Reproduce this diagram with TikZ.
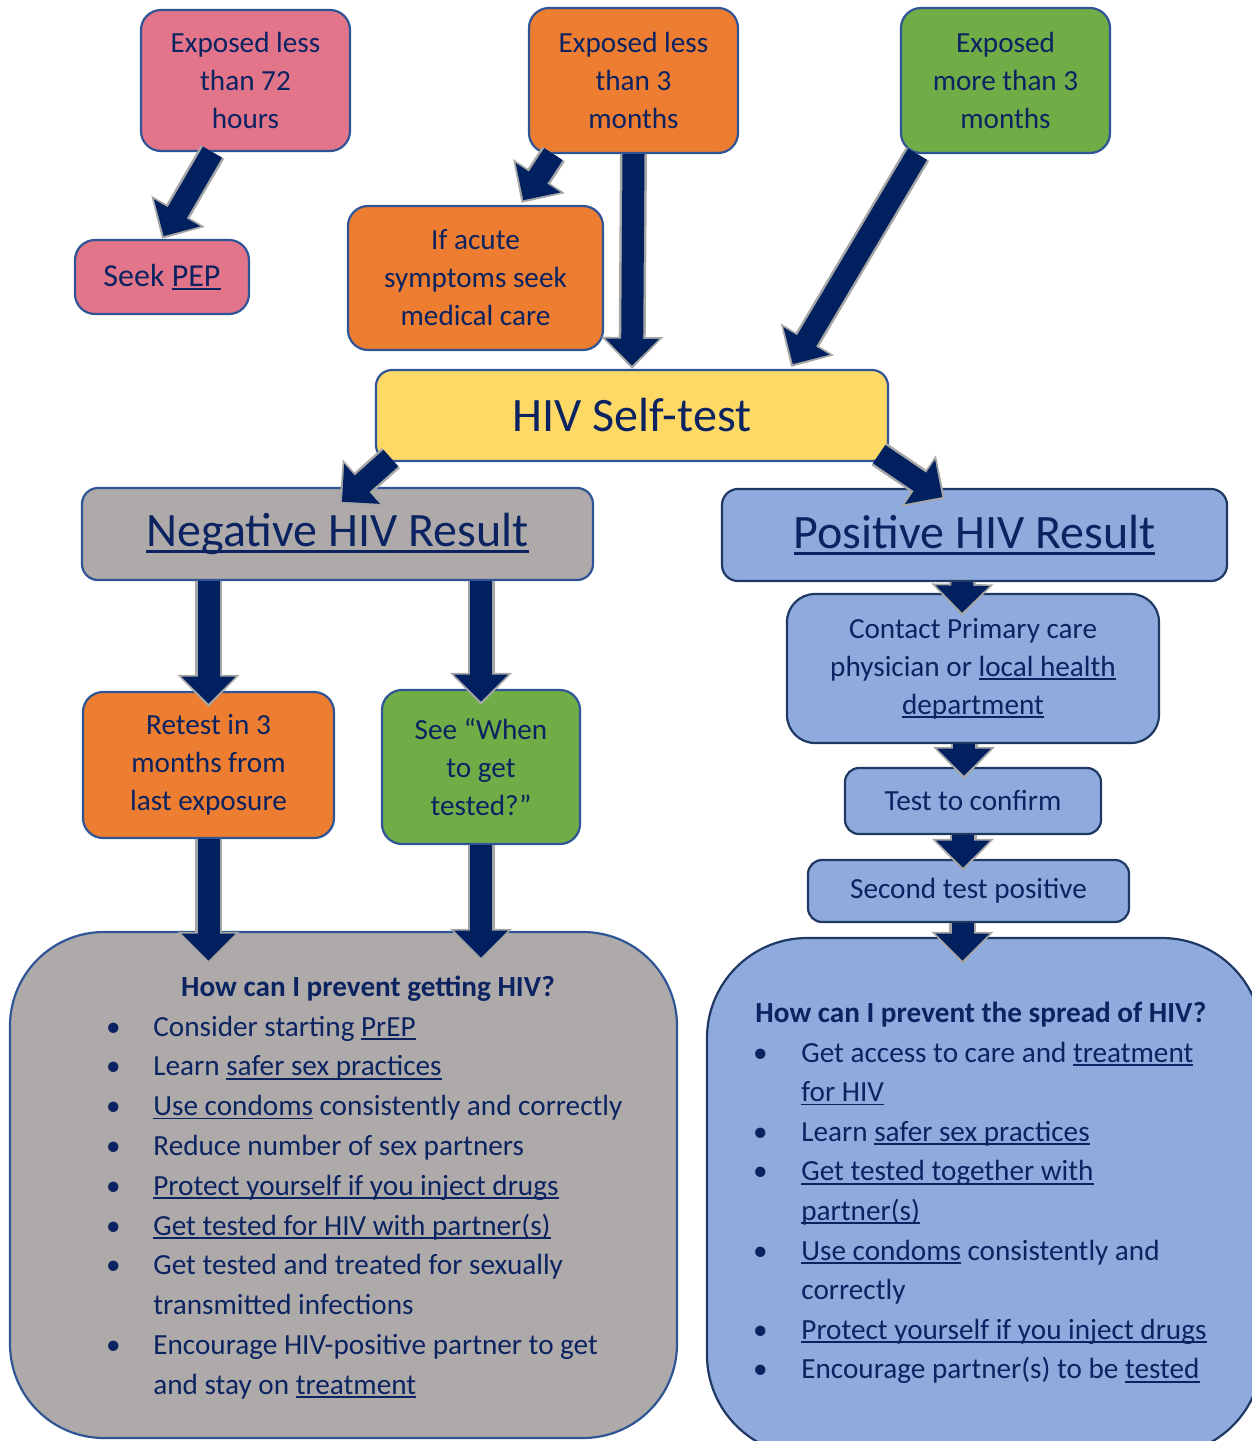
\documentclass[tikz,border=0pt]{standalone}
\usepackage{fontspec}
\setmainfont{Carlito}
\usetikzlibrary{arrows.meta,calc}
\definecolor{navyText}{HTML}{0B2361}
\definecolor{navyArrow}{HTML}{002060}
\definecolor{arrowGray}{HTML}{A6A6A6}
\definecolor{edgeBlue}{HTML}{2F5597}
\definecolor{edgeNavy}{HTML}{1F3864}
\definecolor{pinkFill}{HTML}{E27589}
\definecolor{orangeFill}{HTML}{ED7D31}
\definecolor{greenFill}{HTML}{70AD47}
\definecolor{yellowFill}{HTML}{FFD966}
\definecolor{grayFill}{HTML}{AEAAAA}
\definecolor{blueFill}{HTML}{8FAADC}
%% underline as a link, crossing the descenders
\newcommand\lnk[1]{\setbox0=\hbox{#1}\rlap{\rule[-0.13em]{\wd0}{0.065em}}\box0\relax}
%% block arrow: gray rim first, navy body on top
\newcommand\flowArrow[2]{%
  \draw[arrowBackStyle] #1 -- #2;
  \draw[arrowFrontStyle] #1 -- #2;}
\begin{document}
\begin{tikzpicture}[x=0.5pt,y=-0.5pt,%%
  boxStyle/.style={draw=edgeBlue,line width=1.1pt,rounded corners=10pt,inner sep=0pt,%%
    align=center,text=navyText,font=\fontsize{14.6}{19}\selectfont},%%
  posBoxStyle/.style={boxStyle,draw=edgeNavy,fill=blueFill},%%
  bigLabelStyle/.style={font=\fontsize{24}{28}\selectfont},%%
  listStyle/.style={anchor=base west,inner sep=0pt,text=navyText,font=\fontsize{14.6}{20}\selectfont},%%
  titleStyle/.style={listStyle,font=\fontsize{14.6}{20}\selectfont\bfseries},%%
  arrowBackStyle/.style={draw=arrowGray,line width=13.5pt,-{Triangle[length=16pt,width=30pt]}},%%
  arrowFrontStyle/.style={draw=navyArrow,line width=11pt,shorten >=1.6pt,-{Triangle[length=13.5pt,width=26pt]}}%%
]
%%
\pgfmathsetmacro{\lineGap}{39.8}
\useasboundingbox (0,0) rectangle (1252,1441);
\clip (0,0) rectangle (1252,1441);
%%
%% Top row.
\node[boxStyle,fill=pinkFill,minimum width=104.5pt,minimum height=70.5pt] (exp72) at (245.5,80.5) {Exposed less\\than 72\\hours};
\node[boxStyle,fill=pinkFill,minimum width=87pt,minimum height=37pt,font=\fontsize{16}{19}\selectfont] (pep) at (162,277) {Seek \lnk{PEP}};
\node[boxStyle,fill=orangeFill,minimum width=104.5pt,minimum height=72.5pt] (exp3) at (633.5,80.5) {Exposed less\\than 3\\months};
\node[boxStyle,fill=orangeFill,minimum width=127.5pt,minimum height=72pt] (acute) at (475.5,278) {If acute\\symptoms seek\\medical care};
\node[boxStyle,fill=greenFill,minimum width=104.5pt,minimum height=72.5pt] (expMore) at (1005.5,80.5) {Exposed\\more than 3\\months};
%% The test.
\node[boxStyle,bigLabelStyle,fill=yellowFill,rounded corners=8pt,minimum width=256pt,minimum height=45.5pt] (selfTest) at (632,415.5) {HIV Self-test};
%% Negative side.
\node[boxStyle,bigLabelStyle,fill=grayFill,rounded corners=8pt,minimum width=255.5pt,minimum height=46pt] (negResult) at (337.5,534) {\lnk{Negative HIV Result}};
\node[boxStyle,fill=orangeFill,minimum width=125.5pt,minimum height=73pt] (retest) at (208.5,765) {Retest in 3\\months from\\last exposure};
\node[boxStyle,fill=greenFill,minimum width=99pt,minimum height=77pt] (seeWhen) at (481,767) {See “When\\to get\\tested?”};
\node[boxStyle,fill=grayFill,rounded corners=47pt,minimum width=333.5pt,minimum height=253pt] (preventNeg) at (343.5,1185) {};
%% Positive side.
\node[posBoxStyle,bigLabelStyle,rounded corners=8pt,minimum width=252.5pt,minimum height=46pt] (posResult) at (974.5,535) {\lnk{Positive HIV Result}};
\node[posBoxStyle,rounded corners=14pt,minimum width=186pt,minimum height=74.5pt] (contact) at (973,668.5) {Contact Primary care\\physician or \lnk{local health}\\\lnk{department}};
\node[posBoxStyle,rounded corners=7pt,minimum width=128pt,minimum height=33pt] (confirm) at (973,801) {Test to confirm};
\node[posBoxStyle,rounded corners=7pt,minimum width=160.5pt,minimum height=31pt] (second) at (968.5,891) {Second test positive};
\node[posBoxStyle,rounded corners=50pt,minimum width=277.5pt,minimum height=258.5pt] (preventPos) at (984.5,1196.5) {};
%%
%% Arrows.
\flowArrow{($(exp72.south)+(-33,0)$)}{(pep.north)}
\flowArrow{($(exp3.south)+(-80,0)$)}{($(acute.north)+(46,-2)$)}
\flowArrow{(exp3.south)}{(selfTest.north)}
\flowArrow{($(expMore.south)+(-88,0)$)}{($(selfTest.north east)+(-98,-2)$)}
\flowArrow{($(selfTest.south west)+(16,-4)$)}{($(negResult.north)+(2,17)$)}
\flowArrow{($(selfTest.south east)+(-10,-8)$)}{($(posResult.north west)+(224,11)$)}
\flowArrow{(negResult.south -| retest.north)}{($(retest.north)+(0,16)$)}
\flowArrow{(negResult.south -| seeWhen.north)}{($(seeWhen.north)+(0,16)$)}
\flowArrow{(retest.south)}{($(retest.south |- preventNeg.north)+(0,33)$)}
\flowArrow{(seeWhen.south)}{($(seeWhen.south |- preventNeg.north)+(0,30)$)}
\flowArrow{($(posResult.south)+(-12,0)$)}{($(contact.north)+(-11,23)$)}
\flowArrow{($(contact.south)+(-9,0)$)}{($(confirm.north)+(-9,12)$)}
\flowArrow{($(confirm.south)+(-10,0)$)}{($(second.north)+(-5.5,12)$)}
\flowArrow{($(second.south)+(-6,0)$)}{($(second.south |- preventPos.north)+(-6,27)$)}
%%
%% Prevention lists.
\node[titleStyle,anchor=base] (negTitle) at (368,996) {How can I prevent getting HIV?};
\foreach \row/\hasDot/\txt in {%%
  0/1/{Consider starting \lnk{PrEP}},%%
  1/1/{Learn \lnk{safer sex practices}},%%
  2/1/{\lnk{Use condoms} consistently and correctly},%%
  3/1/{Reduce number of sex partners},%%
  4/1/{\lnk{Protect yourself if you inject drugs}},%%
  5/1/{\lnk{Get tested for HIV with partner(s)}},%%
  6/1/{Get tested and treated for sexually},%%
  7/0/{transmitted infections},%%
  8/1/{Encourage HIV-positive partner to get},%%
  9/0/{and stay on \lnk{treatment}}}
  \node[listStyle] (negItem\row) at (153,{1036+\lineGap*\row}) {\ifnum\hasDot=1 \llap{\makebox[40pt]{\textbullet}}\fi\txt};
%%
\node[titleStyle] (posTitle) at (755,1022) {How can I prevent the spread of HIV?};
\foreach \row/\hasDot/\txt in {%%
  0/1/{Get access to care and \lnk{treatment}},%%
  1/0/{\lnk{for HIV}},%%
  2/1/{Learn \lnk{safer sex practices}},%%
  3/1/{\lnk{Get tested together with}},%%
  4/0/{\lnk{partner(s)}},%%
  5/1/{\lnk{Use condoms} consistently and},%%
  6/0/{correctly},%%
  7/1/{\lnk{Protect yourself if you inject drugs}},%%
  8/1/{Encourage partner(s) to be \lnk{tested}}}
  \node[listStyle] (posItem\row) at (801,{1062+39.6*\row}) {\ifnum\hasDot=1 \llap{\makebox[41pt]{\textbullet}}\fi\txt};
\end{tikzpicture}
\end{document}
